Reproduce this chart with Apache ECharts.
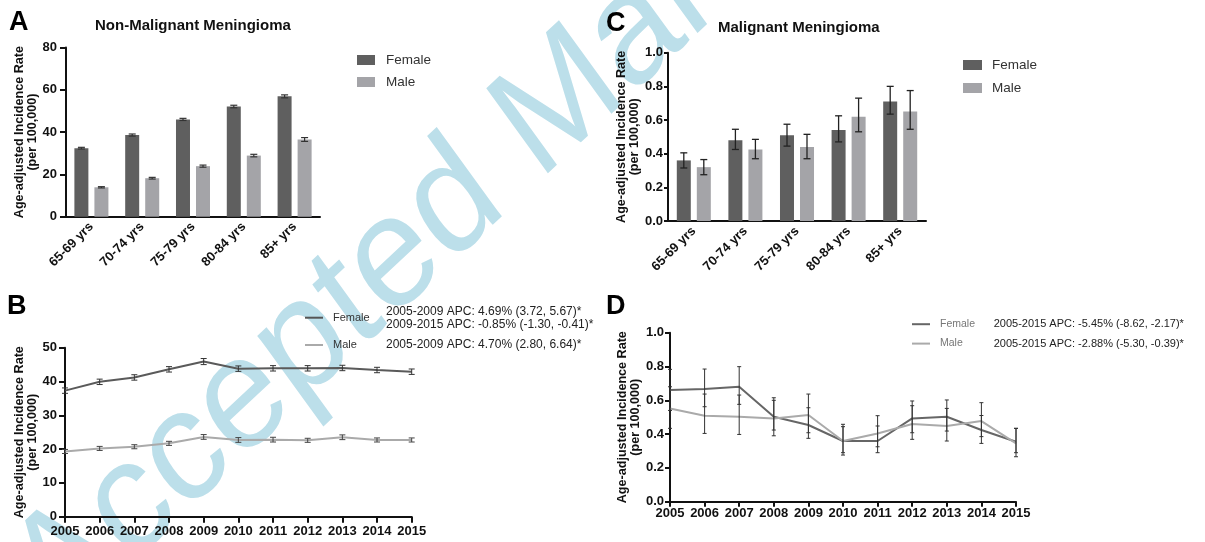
<!DOCTYPE html>
<html><head><meta charset="utf-8">
<script src="https://cdn.jsdelivr.net/npm/echarts@6/dist/echarts.min.js"></script>
<style>html,body{margin:0;padding:0;background:#fff}#c{width:1205px;height:542px}</style>
</head><body><div id="c"></div>
<script>
// ---------- data ----------
const ageGroups = ['65-69 yrs', '70-74 yrs', '75-79 yrs', '80-84 yrs', '85+ yrs'];
const years = ['2005','2006','2007','2008','2009','2010','2011','2012','2013','2014','2015'];

// A: Non-malignant, by age
const nmAgeFemale = [32.4, 38.6, 46.0, 52.1, 56.9];
const nmAgeFemaleErr = [0.4, 0.5, 0.5, 0.6, 0.7];
const nmAgeMale = [13.9, 18.2, 23.9, 28.9, 36.5];
const nmAgeMaleErr = [0.3, 0.4, 0.5, 0.6, 0.9];

// C: Malignant, by age
const mAgeFemale = [0.36, 0.48, 0.51, 0.54, 0.71];
const mAgeFemaleLow = [0.315, 0.425, 0.445, 0.47, 0.635];
const mAgeFemaleHigh = [0.405, 0.545, 0.575, 0.625, 0.80];
const mAgeMale = [0.32, 0.425, 0.44, 0.62, 0.65];
const mAgeMaleLow = [0.275, 0.37, 0.37, 0.53, 0.545];
const mAgeMaleHigh = [0.365, 0.485, 0.515, 0.73, 0.775];

// B: Non-malignant trend
const nmYearFemale = [37.3, 39.9, 41.2, 43.6, 45.9, 43.8, 43.9, 43.9, 44.0, 43.4, 42.9];
const nmYearFemaleErr = [0.8, 0.8, 0.8, 0.8, 0.9, 0.8, 0.8, 0.8, 0.8, 0.8, 0.8];
const nmYearMale = [19.3, 20.2, 20.7, 21.7, 23.6, 22.7, 22.8, 22.6, 23.5, 22.7, 22.7];
const nmYearMaleErr = [0.6, 0.6, 0.6, 0.6, 0.7, 0.7, 0.7, 0.6, 0.7, 0.6, 0.6];

// D: Malignant trend
const mYearFemale = [0.661, 0.667, 0.680, 0.503, 0.454, 0.359, 0.359, 0.493, 0.503, 0.424, 0.355];
const mYearFemaleLow = [0.54, 0.562, 0.576, 0.39, 0.375, 0.276, 0.29, 0.408, 0.418, 0.345, 0.29];
const mYearFemaleHigh = [0.783, 0.785, 0.799, 0.615, 0.556, 0.444, 0.448, 0.596, 0.602, 0.51, 0.434];
const mYearMale = [0.552, 0.509, 0.503, 0.493, 0.513, 0.359, 0.404, 0.46, 0.448, 0.477, 0.345];
const mYearMaleLow = [0.434, 0.404, 0.398, 0.424, 0.408, 0.29, 0.325, 0.369, 0.359, 0.385, 0.266];
const mYearMaleHigh = [0.68, 0.637, 0.631, 0.6, 0.637, 0.458, 0.509, 0.568, 0.552, 0.586, 0.434];

// texts
const titleA = 'Non-Malignant Meningioma';
const titleC = 'Malignant Meningioma';
const yName = 'Age-adjusted Incidence Rate\n(per 100,000)';
const apcB = ['2005-2009 APC: 4.69% (3.72, 5.67)*', '2009-2015 APC: -0.85% (-1.30, -0.41)*', '2005-2009 APC: 4.70% (2.80, 6.64)*'];
const apcD = ['2005-2015 APC: -5.45% (-8.62, -2.17)*', '2005-2015 APC: -2.88% (-5.30, -0.39)*'];
const watermark = 'Accepted Manuscript';

// ---------- styles ----------
const FONT = 'Liberation Sans';
const cFemale = '#5f5f5f', cMale = '#a4a4a8';
const axisCol = '#111';

function errorBars(idx, lows, highs, dx, cap, color, lw) {
  return {
    type: 'custom', xAxisIndex: idx, yAxisIndex: idx, z: 5, silent: true,
    data: lows.map((lo, i) => [i, lo, highs[i]]),
    renderItem: function (params, api) {
      const a = api.coord([api.value(0), api.value(1)]);
      const b = api.coord([api.value(0), api.value(2)]);
      const x = a[0] + dx;
      const st = { stroke: color, lineWidth: lw };
      return { type: 'group', children: [
        { type: 'line', shape: { x1: x, y1: a[1], x2: x, y2: b[1] }, style: st },
        { type: 'line', shape: { x1: x - cap, y1: a[1], x2: x + cap, y2: a[1] }, style: st },
        { type: 'line', shape: { x1: x - cap, y1: b[1], x2: x + cap, y2: b[1] }, style: st }
      ] };
    }
  };
}
const lo = (v, e) => v.map((x, i) => x - e[i]);
const hi = (v, e) => v.map((x, i) => x + e[i]);

function xCat(idx, data, rotate, boundaryGap, margin, tick) {
  return {
    type: 'category', gridIndex: idx, data: data, boundaryGap: boundaryGap,
    axisLine: { lineStyle: { color: axisCol, width: 2 } },
    axisTick: { alignWithLabel: true, length: tick, lineStyle: { color: axisCol, width: 2 } },
    axisLabel: { interval: 0, rotate: rotate, margin: margin, fontFamily: FONT, fontWeight: 'bold', fontSize: 13, color: axisCol }
  };
}
function yVal(idx, max, interval, dec, gap, margin, tick) {
  return {
    type: 'value', gridIndex: idx, min: 0, max: max, interval: interval,
    name: yName, nameLocation: 'middle', nameGap: gap,
    nameTextStyle: { fontFamily: FONT, fontWeight: 'bold', fontSize: 12.6, lineHeight: 13, color: axisCol },
    axisLine: { show: true, lineStyle: { color: axisCol, width: 2 } },
    axisTick: { show: true, length: tick, lineStyle: { color: axisCol, width: 2 } },
    splitLine: { show: false },
    axisLabel: { margin: margin, fontFamily: FONT, fontWeight: 'bold', fontSize: 13, color: axisCol,
      formatter: v => dec ? v.toFixed(dec) : String(v) }
  };
}

const graphics = [];
// watermark (horizontally compressed like the rest of the figure)
graphics.push({ type: 'group', x: 0, y: 0, scaleX: 0.88, scaleY: 1, z: -100, silent: true, children: [
  { type: 'text', x: 35.5, y: 600, rotation: 39.5 * Math.PI / 180, z: -100, silent: true,
    style: { text: watermark, fontFamily: FONT, fontSize: 160, fill: '#bcdfea',
      textAlign: 'left', textVerticalAlign: 'middle', align: 'left', verticalAlign: 'middle' } }
] });
// panel letters
[['A', 9, 23], ['C', 606, 24], ['B', 7, 307], ['D', 606, 307]].forEach(p => graphics.push({
  type: 'text', x: p[1], y: p[2],
  style: { text: p[0], fontFamily: FONT, fontWeight: 'bold', fontSize: 27, fill: '#000',
    textVerticalAlign: 'middle', verticalAlign: 'middle' } }));
function legLine(x, y, col, label, txtCol, fs, tx) {
  graphics.push({ type: 'line', shape: { x1: x, y1: y, x2: x + 18, y2: y }, style: { stroke: col, lineWidth: 2 } });
  graphics.push({ type: 'text', x: tx, y: y, style: { text: label, fontFamily: FONT, fontSize: fs, fill: txtCol, textVerticalAlign: 'middle', verticalAlign: 'middle' } });
}
function note(x, y, t, fs) {
  graphics.push({ type: 'text', x: x, y: y, style: { text: t, fontFamily: FONT, fontSize: fs, fill: '#222', textVerticalAlign: 'middle', verticalAlign: 'middle' } });
}
legLine(305, 317.7, '#555', 'Female', '#333', 11, 333);
legLine(305, 345, '#aaa', 'Male', '#333', 11, 333);
note(386, 311.7, apcB[0], 12); note(386, 325, apcB[1], 12); note(386, 345, apcB[2], 12);
legLine(912, 324.2, '#666', 'Female', '#777', 10.5, 940);
legLine(912, 343.6, '#aaa', 'Male', '#777', 10.5, 940);
note(993.7, 324.2, apcD[0], 11); note(993.7, 343.6, apcD[1], 11);

const option = {
  backgroundColor: '#fff',
  animation: false,
  title: [
    { text: titleA, left: 95, top: 18, textStyle: { fontFamily: FONT, fontWeight: 'bold', fontSize: 15, color: '#111' }, padding: 0 },
    { text: titleC, left: 718, top: 20, textStyle: { fontFamily: FONT, fontWeight: 'bold', fontSize: 15, color: '#111' }, padding: 0 }
  ],
  legend: [
    { orient: 'vertical', left: 357, top: 53, itemWidth: 18, itemHeight: 10, itemGap: 8, icon: 'rect', padding: 0,
      data: ['Female', 'Male'], textStyle: { fontFamily: FONT, fontSize: 13.5, color: '#333', padding: [0, 0, 0, 6] } },
    { orient: 'vertical', left: 963, top: 58, itemWidth: 19, itemHeight: 10, itemGap: 9, icon: 'rect', padding: 0,
      data: ['Female', 'Male'], textStyle: { fontFamily: FONT, fontSize: 13.5, color: '#333', padding: [0, 0, 0, 5] } }
  ],
  grid: [
    { left: 66, top: 47.5, width: 254, height: 169.2 },
    { left: 668, top: 52.7, width: 258, height: 168.3 },
    { left: 65, top: 347.7, width: 346.7, height: 169 },
    { left: 670, top: 332.7, width: 346, height: 169 }
  ],
  xAxis: [ xCat(0, ageGroups, 45, true, 8, 6), xCat(1, ageGroups, 45, true, 8, 5), xCat(2, years, 0, false, 8, 6), xCat(3, years, 0, false, 5, 5) ],
  yAxis: [ yVal(0, 80, 20, 0, 27, 9, 6), yVal(1, 1, 0.2, 1, 25, 5, 4), yVal(2, 50, 10, 0, 24, 8, 6), yVal(3, 1, 0.2, 1, 24, 6, 5) ],
  graphic: graphics,
  series: [
    { name: 'Female', type: 'bar', xAxisIndex: 0, yAxisIndex: 0, data: nmAgeFemale, barWidth: 14, barGap: '43%', itemStyle: { color: cFemale } },
    { name: 'Male', type: 'bar', xAxisIndex: 0, yAxisIndex: 0, data: nmAgeMale, barWidth: 14, barGap: '43%', itemStyle: { color: cMale } },
    errorBars(0, lo(nmAgeFemale, nmAgeFemaleErr), hi(nmAgeFemale, nmAgeFemaleErr), -10, 3.5, '#333', 1.2),
    errorBars(0, lo(nmAgeMale, nmAgeMaleErr), hi(nmAgeMale, nmAgeMaleErr), 10, 3.5, '#333', 1.2),

    { name: 'Female', type: 'bar', xAxisIndex: 1, yAxisIndex: 1, data: mAgeFemale, barWidth: 14, barGap: '43%', itemStyle: { color: cFemale } },
    { name: 'Male', type: 'bar', xAxisIndex: 1, yAxisIndex: 1, data: mAgeMale, barWidth: 14, barGap: '43%', itemStyle: { color: cMale } },
    errorBars(1, mAgeFemaleLow, mAgeFemaleHigh, -10, 3.5, '#222', 1.3),
    errorBars(1, mAgeMaleLow, mAgeMaleHigh, 10, 3.5, '#222', 1.3),

    { name: 'Female', type: 'line', xAxisIndex: 2, yAxisIndex: 2, data: nmYearFemale, symbol: 'none', lineStyle: { color: '#5a5a5a', width: 2 }, itemStyle: { color: '#5a5a5a' } },
    { name: 'Male', type: 'line', xAxisIndex: 2, yAxisIndex: 2, data: nmYearMale, symbol: 'none', lineStyle: { color: '#aaa', width: 2 }, itemStyle: { color: '#aaa' } },
    errorBars(2, lo(nmYearFemale, nmYearFemaleErr), hi(nmYearFemale, nmYearFemaleErr), 0, 3, '#333', 1),
    errorBars(2, lo(nmYearMale, nmYearMaleErr), hi(nmYearMale, nmYearMaleErr), 0, 3, '#444', 1),

    { name: 'Female', type: 'line', xAxisIndex: 3, yAxisIndex: 3, data: mYearFemale, symbol: 'none', lineStyle: { color: '#666', width: 2 }, itemStyle: { color: '#666' } },
    { name: 'Male', type: 'line', xAxisIndex: 3, yAxisIndex: 3, data: mYearMale, symbol: 'none', lineStyle: { color: '#aaa', width: 2 }, itemStyle: { color: '#aaa' } },
    errorBars(3, mYearFemaleLow, mYearFemaleHigh, 0, 2, '#333', 1),
    errorBars(3, mYearMaleLow, mYearMaleHigh, 0, 2, '#333', 1)
  ]
};
const chart = echarts.init(document.getElementById('c'), null, { renderer: 'canvas' });
chart.setOption(option);
</script>
</body></html>
